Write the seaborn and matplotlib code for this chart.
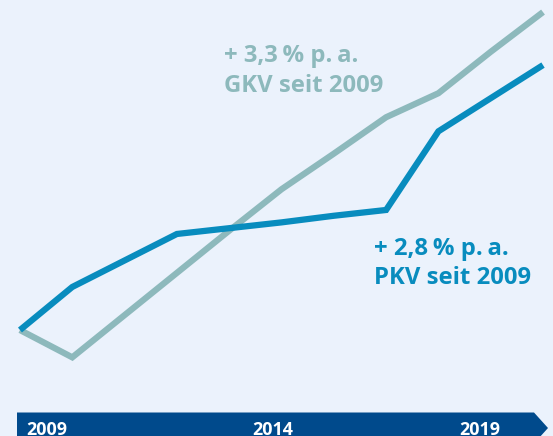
import matplotlib
matplotlib.use("Agg")
import matplotlib.pyplot as plt
from matplotlib.patches import Polygon
import pandas as pd
import seaborn as sns

# Beitragsentwicklung, Index 2009 = 100
years = list(range(2009, 2020))
gkv = [100.0, 96.7, 101.8, 106.9, 112.0, 117.0, 121.3, 125.7, 128.6, 133.6, 138.4]
pkv = [100.0, 105.2, 108.4, 111.6, 112.3, 113.0, 113.8, 114.5, 124.0, 128.0, 132.0]

series_names = ["GKV", "PKV"]
gkv_label = ["+ 3,3\u2009% p.\u2009a.", "GKV seit 2009"]
pkv_label = ["+ 2,8\u2009% p.\u2009a.", "PKV seit 2009"]
axis_labels = ["2009", "2014", "2019"]

BG = "#EBF2FC"
GREY = "#8DB9BC"
BLUE = "#088CBE"
NAVY = "#004A8C"

W, H = 553, 436

df = pd.DataFrame({
    "Jahr": years * 2,
    "Index": gkv + pkv,
    "Versicherung": [series_names[0]] * len(years) + [series_names[1]] * len(years),
})

sns.set_theme(style="white")
plt.rcParams["font.family"] = ["Open Sans", "DejaVu Sans"]

fig = plt.figure(figsize=(W / 100, H / 100), dpi=100, facecolor=BG)
ax = fig.add_axes([0, 0, 1, 1])
ax.set_facecolor(BG)

sns.lineplot(
    data=df, x="Jahr", y="Index", hue="Versicherung",
    palette={series_names[0]: GREY, series_names[1]: BLUE},
    hue_order=series_names, linewidth=4.5, legend=False, ax=ax,
    sort=False,
)
for line in ax.lines:
    line.set_solid_capstyle("butt")
    line.set_solid_joinstyle("miter")

ax.set_xlim(2008.618, 2019.191)
ax.set_ylim(87.2, 139.86)
ax.set_axis_off()


def fx(px):
    return px / W


def fy(py):
    return 1 - py / H


# Zeitleiste als Pfeilband am unteren Rand
band = [(17, 412.5), (534, 412.5), (548, 428), (534, 443.5), (17, 443.5)]
fig.patches.append(Polygon([(fx(x), fy(y)) for x, y in band], closed=True,
                           transform=fig.transFigure, facecolor=NAVY,
                           edgecolor="none", zorder=5))

label_pos = [(26, "left"), (273, "center"), (500, "right")]
for text, (px, ha) in zip(axis_labels, label_pos):
    fig.text(fx(px), fy(434.5), text, ha=ha, va="baseline", color="white",
             fontsize=12.9, fontweight="bold", zorder=6)

# Beschriftungen der Kurven
for i, t in enumerate(gkv_label):
    fig.text(fx(224), fy([61.5, 92][i]), t, ha="left", va="baseline",
             color=GREY, fontsize=17.2, fontweight="bold")
for i, t in enumerate(pkv_label):
    fig.text(fx(374), fy([255, 284][i]), t, ha="left", va="baseline",
             color=BLUE, fontsize=17.2, fontweight="bold")

fig.savefig("out.png", dpi=100, facecolor=BG)
